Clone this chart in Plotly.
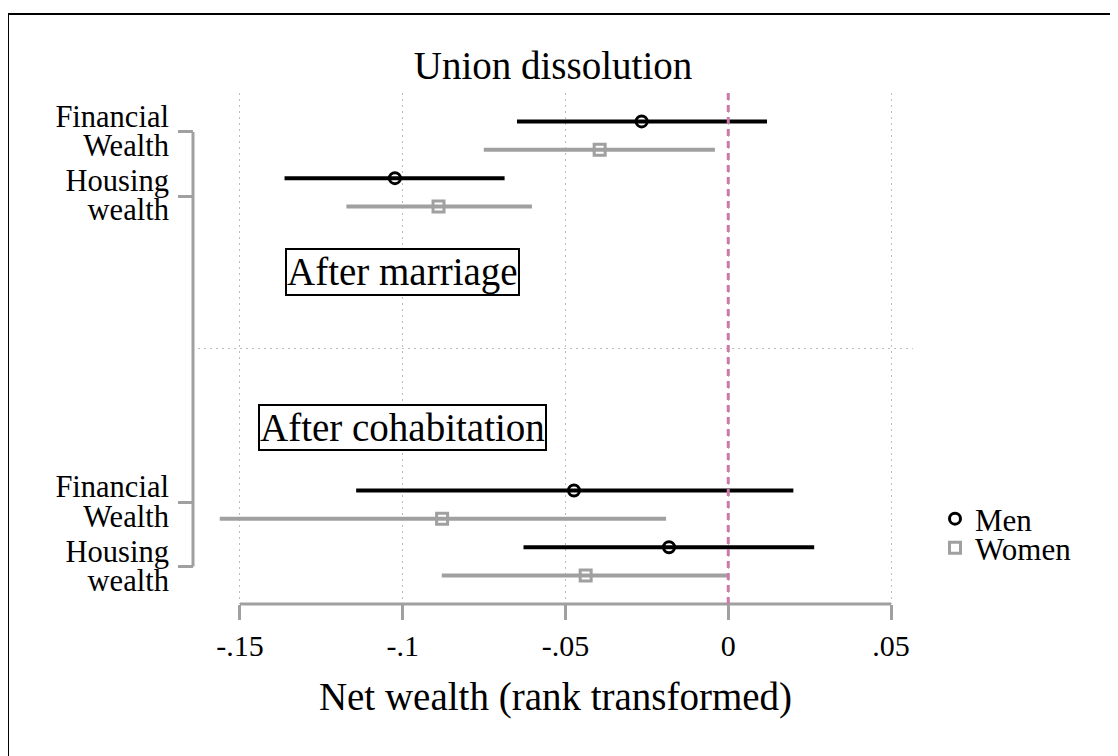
import plotly.graph_objects as go

# ---------------- data ----------------
groups = ["After marriage", "After cohabitation"]
row_labels = [["Financial", "Wealth"], ["Housing", "wealth"],
              ["Financial", "Wealth"], ["Housing", "wealth"]]
series = ["Men", "Women"]

men_coef = [-0.0266, -0.1024, -0.0474, -0.0182]
men_lo = [-0.0649, -0.1363, -0.1143, -0.0629]
men_hi = [0.0119, -0.0687, 0.0200, 0.0264]

women_coef = [-0.0395, -0.0890, -0.0879, -0.0438]
women_lo = [-0.0751, -0.1173, -0.1562, -0.0880]
women_hi = [-0.0041, -0.0603, -0.0191, 0.0003]

x_tickvals = [-0.15, -0.10, -0.05, 0.0, 0.05]
x_ticktext = ["-.15", "-.1", "-.05", "0", ".05"]
ref_value = 0.0

title_text = "Union dissolution"
x_title = "Net wealth (rank transformed)"

# ---------------- layout positions ----------------
men_pos = [1, 3, 14, 16]
women_pos = [2, 4, 15, 17]
tick_pos = [1.37, 3.63, 14.42, 16.68]
group_label_pos = [6.32, 11.8]
separator_pos = 9
y_range = [18, 0]

line_pos, line_text = [], []
for t, lines in zip(tick_pos, row_labels):
    line_pos += [t - 0.55, t + 0.48]
    line_text += lines

GRAY = "#a0a0a0"
GRID = "#bdbdbd"
FONT = "Liberation Serif"

# the page body has an 8px margin; work in page pixels and shift
OFF = 8
W, H = 1118 - OFF, 756 - OFF
PLOT_L, PLOT_R, PLOT_T, PLOT_B = 193, 913, 93, 604   # page pixels
L, T = PLOT_L - OFF, PLOT_T - OFF
R = W - (PLOT_R - OFF)
B = H - (PLOT_B - OFF)
PW, PH = W - L - R, H - T - B


def px_x(page_x):
    return (page_x - PLOT_L) / PW


def px_y(page_y):
    return (PLOT_B - page_y) / PH


fig = go.Figure()

fig.add_trace(go.Scatter(
    x=men_coef, y=men_pos, mode="markers", name=series[0],
    marker=dict(symbol="circle-open", size=11, color="black",
                line=dict(width=3, color="black")),
    error_x=dict(type="data", symmetric=False,
                 array=[h - c for h, c in zip(men_hi, men_coef)],
                 arrayminus=[c - l for c, l in zip(men_coef, men_lo)],
                 color="black", thickness=4, width=0),
    legend="legend",
))
fig.add_trace(go.Scatter(
    x=women_coef, y=women_pos, mode="markers", name=series[1],
    marker=dict(symbol="square-open", size=11, color=GRAY,
                line=dict(width=3, color=GRAY)),
    error_x=dict(type="data", symmetric=False,
                 array=[h - c for h, c in zip(women_hi, women_coef)],
                 arrayminus=[c - l for c, l in zip(women_coef, women_lo)],
                 color=GRAY, thickness=4, width=0),
    legend="legend2",
))
# anchor trace for the label axis
fig.add_trace(go.Scatter(x=[None], y=[None], yaxis="y2", showlegend=False,
                         hoverinfo="skip"))

x_left = -0.15 - 42 / 3260
x_right = 0.05 + 22 / 3260

fig.update_layout(
    width=W, height=H,
    margin=dict(l=L, r=R, t=T, b=B, autoexpand=False),
    paper_bgcolor="white", plot_bgcolor="white",
    font=dict(family=FONT, size=30, color="black"),
    showlegend=True,
    title=dict(text=title_text, font=dict(family=FONT, size=39, color="black"),
               x=0.5, xref="paper", xanchor="center",
               y=1 - (65 - OFF) / H, yref="container", yanchor="middle"),
    xaxis=dict(domain=[5 / PW, 1], range=[x_left, x_right],
               tickvals=x_tickvals, ticktext=x_ticktext,
               ticks="outside", ticklen=15, tickwidth=2.5, tickcolor=GRAY,
               ticklabelstandoff=0,
               showline=False, zeroline=False,
               showgrid=True, gridcolor=GRID, gridwidth=1, griddash="2px,4px",
               tickfont=dict(family=FONT, size=30, color="black"),
               title=dict(text=x_title, font=dict(family=FONT, size=39, color="black"),
                          standoff=21)),
    yaxis=dict(range=y_range, anchor="free", position=0,
               tickvals=tick_pos, ticktext=[""] * len(tick_pos),
               ticks="outside", ticklen=15, tickwidth=2.5, tickcolor=GRAY,
               showline=False, zeroline=False, showgrid=False),
    yaxis2=dict(range=y_range, overlaying="y", anchor="free", position=0, side="left",
                tickvals=line_pos, ticktext=line_text,
                ticks="outside", ticklen=15, tickcolor="rgba(0,0,0,0)",
                ticklabelstandoff=3,
                tickfont=dict(family=FONT, size=30.5, color="black"),
                showline=False, zeroline=False, showgrid=False),
    legend=dict(x=px_x(935), y=px_y(519), xanchor="left", yanchor="middle",
                bgcolor="rgba(0,0,0,0)", font=dict(family=FONT, size=31, color="black")),
    legend2=dict(x=px_x(935), y=px_y(548), xanchor="left", yanchor="middle",
                 bgcolor="rgba(0,0,0,0)", font=dict(family=FONT, size=31, color="black")),
)

# group headings
for g, yp in zip(groups, group_label_pos):
    fig.add_annotation(x=-0.10, y=yp, xref="x", yref="y", text=g, showarrow=False,
                       font=dict(family=FONT, size=39, color="black"),
                       bgcolor="white", bordercolor="black", borderwidth=2, borderpad=0)

# axis lines spanning only the tick range
fig.add_shape(type="line", xref="x", yref="paper", x0=x_tickvals[0], x1=x_tickvals[-1],
              y0=0, y1=0, line=dict(color=GRAY, width=3))
fig.add_shape(type="line", xref="paper", yref="y", x0=0, x1=0,
              y0=tick_pos[0], y1=tick_pos[-1], line=dict(color=GRAY, width=3))
# group separator
fig.add_shape(type="line", xref="x domain", yref="y", x0=0, x1=1,
              y0=separator_pos, y1=separator_pos,
              line=dict(color=GRID, width=1, dash="2px,4px"), layer="below")
# reference line
fig.add_shape(type="line", xref="x", yref="y domain", x0=ref_value, x1=ref_value,
              y0=0, y1=1, line=dict(color="#cc79a7", width=3, dash="7px,5px"))
# outer frame (top and left edges visible)
fx0 = px_x(8)
fy0 = px_y(14)
fig.add_shape(type="line", xref="paper", yref="paper", x0=fx0, x1=px_x(1130),
              y0=fy0, y1=fy0, line=dict(color="black", width=2))
fig.add_shape(type="line", xref="paper", yref="paper", x0=fx0, x1=fx0,
              y0=fy0, y1=px_y(770), line=dict(color="black", width=2))

fig.write_html("out.html")
